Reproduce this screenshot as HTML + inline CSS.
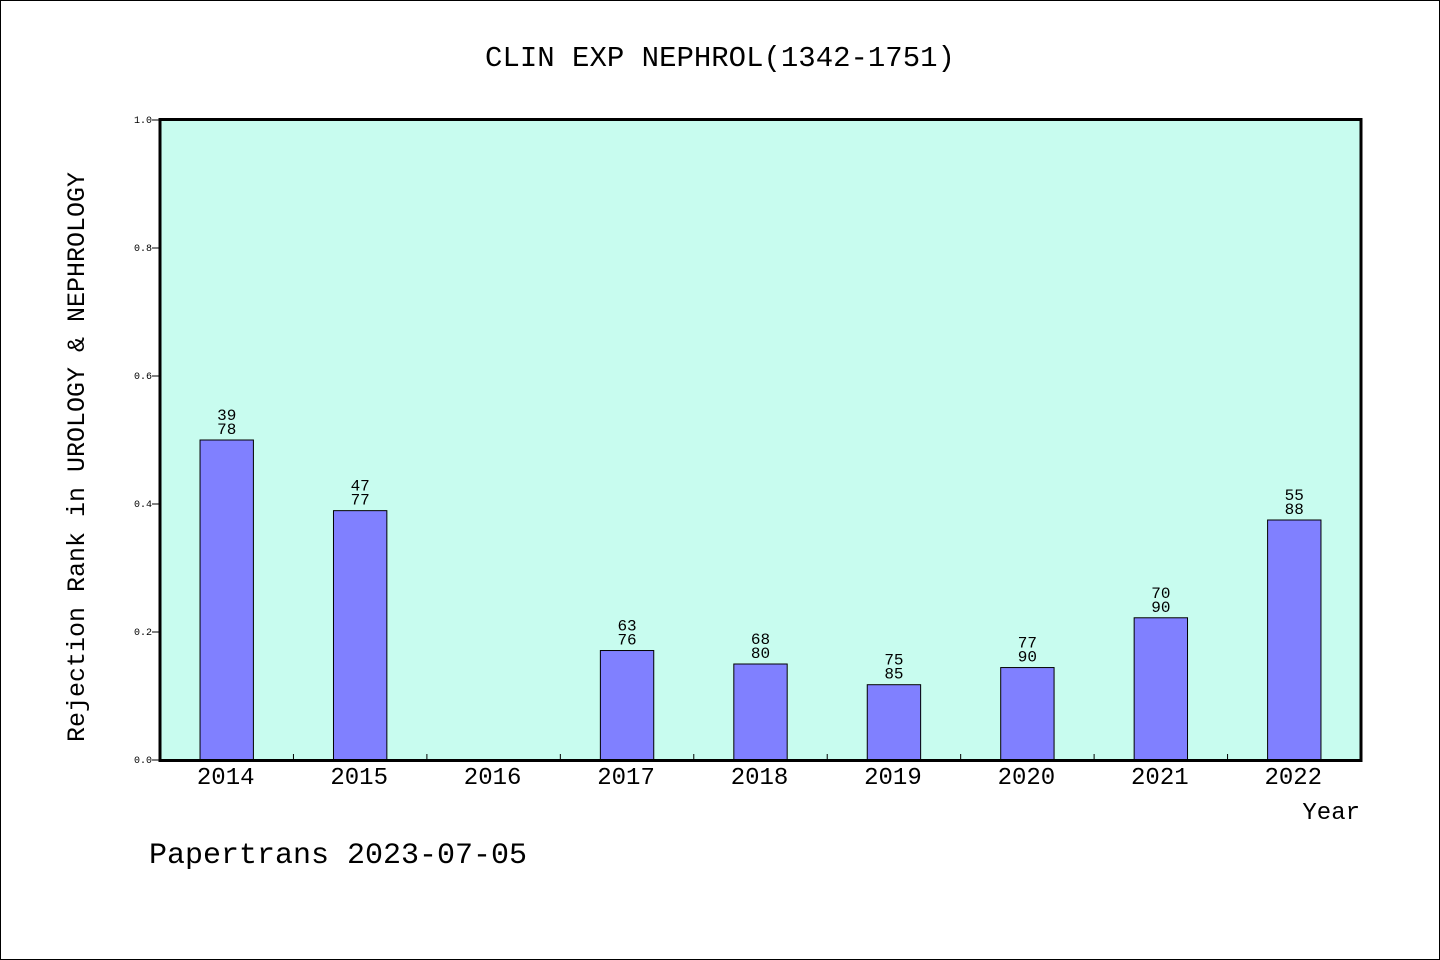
<!DOCTYPE html>
<html><head><meta charset="utf-8"><style>
html,body{margin:0;padding:0;background:#fff}
svg{display:block}
text{font-family:"Liberation Mono","WenQuanYi Zen Hei",monospace;fill:#000}
</style></head><body>
<svg id="chart" width="1440" height="960" xmlns="http://www.w3.org/2000/svg">
<rect x="0.5" y="0.5" width="1439" height="959" fill="#fff" stroke="#000"/>
<text x="720" y="66" font-size="29" text-anchor="middle">CLIN EXP NEPHROL(1342-1751)</text>
<rect x="160" y="119.5" width="1201" height="641" fill="#c8fcef"/>
<g id="bars"></g>
<g id="axes"></g>
<rect x="160" y="119.5" width="1201" height="641" fill="none" stroke="#000" stroke-width="3"/>
<text transform="translate(84,457) rotate(-90)" font-size="25" text-anchor="middle">Rejection Rank in UROLOGY &amp; NEPHROLOGY</text>
<text x="1360" y="819" font-size="24" text-anchor="end">Year</text>
<text x="149" y="863" font-size="30">Papertrans 2023-07-05</text>
</svg>
<script>
const categories=["2014","2015","2016","2017","2018","2019","2020","2021","2022"];
const ranks=[39,47,null,63,68,75,77,70,55];
const totals=[78,77,null,76,80,85,90,90,88];
const yTicks=[0,0.2,0.4,0.6,0.8,1.0];
const NS="http://www.w3.org/2000/svg";
const X0=160,X1=1361,Y0=760,Y1=120;
const band=(X1-X0)/categories.length;
const xc=i=>X0+band*(i+0.5);
const y=v=>Y0-(Y0-Y1)*v;
function mk(t,a,p){const e=document.createElementNS(NS,t);for(const k in a)e.setAttribute(k,a[k]);p.appendChild(e);return e;}
const bars=document.getElementById('bars'),axes=document.getElementById('axes');
categories.forEach((c,i)=>{
  const lab=mk('text',{x:xc(i)-1,y:784,'font-size':24,'text-anchor':'middle'},axes);
  lab.textContent=c;
  
  
  if(i>0){const t=mk('line',{x1:X0+band*i,x2:X0+band*i,y1:Y0,y2:Y0-6,stroke:'#000'},axes);
    
    }
  if(ranks[i]==null)return;
  const v=1-ranks[i]/totals[i];
  const w=band*0.4;
  const r=mk('rect',{x:xc(i)-w/2,y:y(v),width:w,height:Y0-y(v),fill:'#8080ff',stroke:'#000','stroke-width':1},bars);
  
  
  const t1=mk('text',{x:xc(i),y:y(v)-20,'font-size':16,'text-anchor':'middle'},bars);
  t1.textContent=ranks[i];
  
  
  const t2=mk('text',{x:xc(i),y:y(v)-6,'font-size':16,'text-anchor':'middle'},bars);
  t2.textContent=totals[i];
  
  
});
yTicks.forEach(v=>{
  const l=mk('line',{x1:X0-8,x2:X0,y1:y(v),y2:y(v),stroke:'#000'},axes);
  
  
  const t=mk('text',{x:152,y:y(v)+3,'font-size':10,'text-anchor':'end'},axes);
  t.textContent=v.toFixed(1);
  
  
});
</script>
</body></html>
